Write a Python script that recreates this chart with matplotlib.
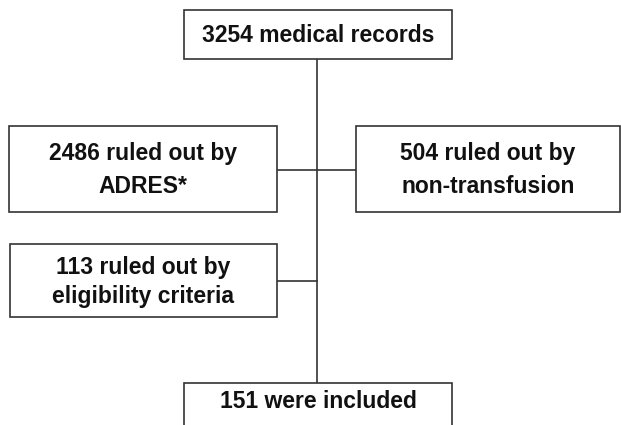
from matplotlib import pyplot as plt
from matplotlib.patches import Rectangle

# box texts
labels = [
    '3254 medical records',
    '2486 ruled out by\nADRES*',
    '504 ruled out by\nnon-transfusion',
    '113 ruled out by\neligibility criteria',
    '151 were included',
]
# box geometry in pixels: left, top, right, bottom
boxes = [
    (184, 10, 452, 59),
    (9, 126, 277, 212),
    (356, 126, 620, 212),
    (10, 244, 277, 317),
    (184, 383, 452, 440),
]
text_y = [35, 170, 170, 282, 402]
line_sp = [1.0, 1.55, 1.55, 1.3, 1.0]
spine_x = 317

fig = plt.figure(figsize=(6.21, 4.25), dpi=100)
ax = fig.add_axes([0, 0, 1, 1])
ax.set_xlim(0, 621)
ax.set_ylim(425, 0)
ax.axis('off')

edge = '#333333'
for (x0, y0, x1, y1), label, ty, ls in zip(boxes, labels, text_y, line_sp):
    ax.add_patch(Rectangle((x0, y0), x1 - x0, y1 - y0,
                           facecolor='white', edgecolor=edge, lw=1.2, zorder=2))
    ax.text((x0 + x1) / 2, ty, label, ha='center', va='center',
            fontsize=16.5, fontweight='bold', family='Liberation Sans',
            linespacing=ls, color='#111111', zorder=3)

# connectors
ax.plot([spine_x, spine_x], [boxes[0][3], boxes[4][1]], color=edge, lw=1.2, zorder=1)
ax.plot([boxes[1][2], boxes[2][0]], [169.5, 169.5], color=edge, lw=1.2, zorder=1)
ax.plot([boxes[3][2], spine_x], [281, 281], color=edge, lw=1.2, zorder=1)

fig.savefig('out.png', dpi=100)
